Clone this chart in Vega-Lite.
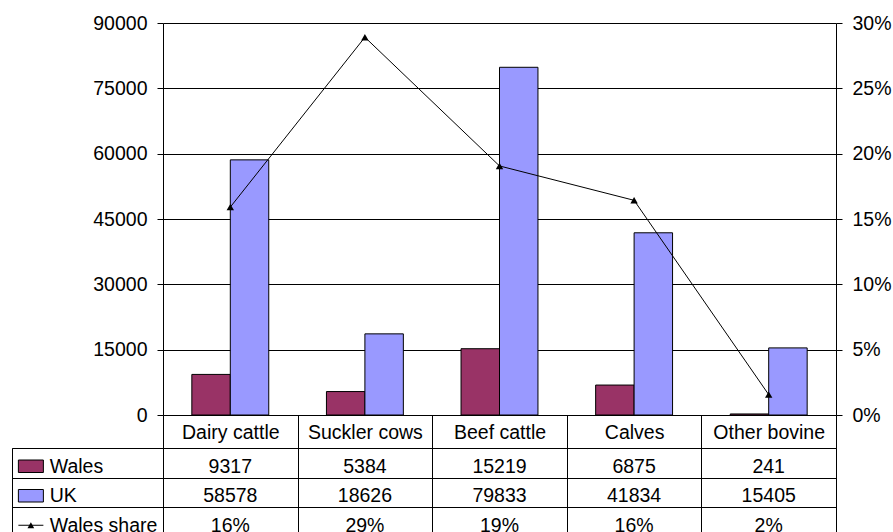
{
  "$schema": "https://vega.github.io/schema/vega-lite/v6.json",
  "padding": {"left": 11, "top": 13, "right": 0, "bottom": 0},
  "background": "white",
  "config": {
    "view": {"stroke": null},
    "font": "Liberation Sans",
    "axis": {"labelFont": "Liberation Sans", "labelFontSize": 19.5, "labelColor": "black", "titleFont": "Liberation Sans"},
    "text": {"font": "Liberation Sans", "fontSize": 19.5, "color": "black"}
  },
  "datasets": {
    "cattle": [
      {"category": "Dairy cattle", "Wales": 9317, "UK": 58578, "share": 0.1591},
      {"category": "Suckler cows", "Wales": 5384, "UK": 18626, "share": 0.2891},
      {"category": "Beef cattle", "Wales": 15219, "UK": 79833, "share": 0.1906},
      {"category": "Calves", "Wales": 6875, "UK": 41834, "share": 0.1643},
      {"category": "Other bovine", "Wales": 241, "UK": 15405, "share": 0.0156}
    ],
    "legendRows": [{"row": "Wales"}, {"row": "UK"}, {"row": "Wales share"}]
  },
  "data": {"name": "cattle"},
  "columns": 2,
  "spacing": {"row": 33, "column": 0},
  "bounds": "flush",
  "concat": [
    {
      "width": 151,
      "height": 392,
      "mark": {"type": "point", "opacity": 0},
      "encoding": {}
    },
    {
      "width": 673,
      "height": 392,
      "encoding": {
        "x": {
          "field": "category", "type": "nominal",
          "scale": {"domain": ["Dairy cattle", "Suckler cows", "Beef cattle", "Calves", "Other bovine"], "paddingInner": 0, "paddingOuter": 0},
          "axis": {"title": null, "orient": "bottom", "labelAngle": 0, "tickBand": "extent", "tickSize": 33, "tickColor": "black", "domainColor": "black", "labelPadding": -15.5, "labelBaseline": "middle", "grid": false, "labelOverlap": false, "labelLimit": 0}
        }
      },
      "layer": [
        {
          "transform": [{"fold": ["Wales", "UK"], "as": ["series", "value"]}],
          "mark": {"type": "bar", "stroke": "black", "strokeWidth": 1},
          "encoding": {
            "xOffset": {"field": "series", "type": "nominal", "scale": {"domain": ["Wales", "UK"], "paddingInner": 0, "paddingOuter": 0.75}},
            "y": {
              "field": "value", "type": "quantitative",
              "scale": {"domain": [0, 90000], "nice": false},
              "axis": {"title": null, "orient": "left", "values": [0, 15000, 30000, 45000, 60000, 75000, 90000], "format": "d", "grid": true, "gridColor": "black", "gridOpacity": 1, "tickColor": "black", "tickSize": 6, "labelPadding": 10, "domainColor": "black"}
            },
            "color": {"field": "series", "type": "nominal", "scale": {"domain": ["Wales", "UK"], "range": ["#993366", "#9999FF"]}, "legend": null}
          }
        },
        {
          "mark": {"type": "line", "color": "black", "strokeWidth": 1, "point": {"shape": "triangle-up", "filled": true, "size": 55, "color": "black", "opacity": 1}},
          "encoding": {
            "y": {
              "field": "share", "type": "quantitative",
              "scale": {"domain": [0, 0.3], "nice": false},
              "axis": {"title": null, "orient": "right", "values": [0, 0.05, 0.1, 0.15, 0.2, 0.25, 0.3], "format": ".0%", "grid": false, "tickColor": "black", "tickSize": 6, "labelPadding": 10, "domainColor": "black"}
            }
          }
        }
      ],
      "resolve": {"scale": {"y": "independent"}}
    },
    {
      "width": 151,
      "height": 88.5,
      "view": {"stroke": "black"},
      "data": {"name": "legendRows"},
      "encoding": {
        "y": {
          "field": "row", "type": "nominal",
          "scale": {"type": "band", "domain": ["Wales", "UK", "Wales share"], "paddingInner": 0, "paddingOuter": 0},
          "axis": {"title": null, "labels": false, "ticks": false, "domain": false, "grid": true, "gridColor": "black", "gridOpacity": 1, "tickBand": "extent"}
        }
      },
      "layer": [
        {
          "mark": {"type": "text", "align": "left", "baseline": "middle", "dy": 4},
          "encoding": {
            "x": {"datum": "name", "type": "nominal", "bandPosition": 0, "scale": {"type": "band", "domain": ["key", "name"], "paddingInner": 0, "paddingOuter": 1.157, "align": 0}, "axis": null},
            "text": {"field": "row"}
          }
        },
        {
          "transform": [{"filter": "datum.row !== 'Wales share'"}],
          "mark": {"type": "point", "shape": "M-1,-0.5H1V0.5H-1Z", "size": 625, "filled": true, "stroke": "black", "strokeWidth": 1, "opacity": 1},
          "encoding": {
            "x": {"datum": "key", "type": "nominal", "bandPosition": 0.5},
            "yOffset": {"value": 18.25},
            "fill": {"field": "row", "type": "nominal", "scale": {"domain": ["Wales", "UK"], "range": ["#993366", "#9999FF"]}, "legend": null}
          }
        },
        {
          "transform": [{"filter": "datum.row === 'Wales share'"}],
          "mark": {"type": "point", "shape": "M-1,0H1", "size": 625, "filled": false, "color": "black", "stroke": "black", "strokeWidth": 1, "opacity": 1},
          "encoding": {
            "x": {"datum": "key", "type": "nominal", "bandPosition": 0.5},
            "yOffset": {"value": 18.25}
          }
        },
        {
          "transform": [{"filter": "datum.row === 'Wales share'"}],
          "mark": {"type": "point", "shape": "triangle-up", "size": 45, "filled": true, "color": "black", "opacity": 1},
          "encoding": {
            "x": {"datum": "key", "type": "nominal", "bandPosition": 0.5},
            "yOffset": {"value": 18.25}
          }
        }
      ]
    },
    {
      "width": 673,
      "height": 88.5,
      "view": {"stroke": "black"},
      "encoding": {
        "x": {
          "field": "category", "type": "nominal",
          "scale": {"type": "band", "domain": ["Dairy cattle", "Suckler cows", "Beef cattle", "Calves", "Other bovine"], "paddingInner": 0, "paddingOuter": 0},
          "axis": {"title": null, "orient": "top", "labels": false, "ticks": false, "domain": false, "grid": true, "gridColor": "black", "gridOpacity": 1, "tickBand": "extent"}
        }
      },
      "layer": [
        {
          "mark": {"type": "text", "baseline": "middle", "dy": 4},
          "encoding": {
            "y": {"datum": "Wales", "type": "nominal", "scale": {"type": "band", "domain": ["Wales", "UK", "Wales share"], "paddingInner": 0, "paddingOuter": 0}, "axis": {"title": null, "labels": false, "ticks": false, "domain": false, "grid": true, "gridColor": "black", "gridOpacity": 1, "tickBand": "extent"}},
            "text": {"field": "Wales", "type": "quantitative", "format": "d"}
          }
        },
        {
          "mark": {"type": "text", "baseline": "middle", "dy": 4},
          "encoding": {
            "y": {"datum": "UK", "type": "nominal"},
            "text": {"field": "UK", "type": "quantitative", "format": "d"}
          }
        },
        {
          "mark": {"type": "text", "baseline": "middle", "dy": 4},
          "encoding": {
            "y": {"datum": "Wales share", "type": "nominal"},
            "text": {"field": "share", "type": "quantitative", "format": ".0%"}
          }
        }
      ]
    }
  ]
}
